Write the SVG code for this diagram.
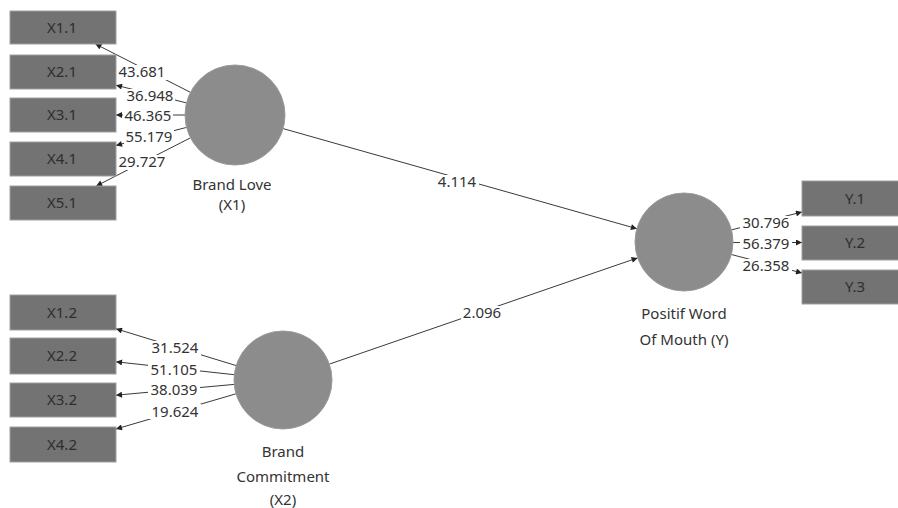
<svg xmlns="http://www.w3.org/2000/svg" width="898" height="508" viewBox="0 0 898 508">
  <defs>
    <marker id="arr" viewBox="0 0 10 10" refX="10" refY="5" markerWidth="7" markerHeight="6" markerUnits="userSpaceOnUse" orient="auto">
      <path d="M0,0 L10,5 L0,10 z" fill="#222"/>
    </marker>
    <style>
      .ind { fill: #737373; stroke: #a0a0a0; stroke-width: 1; }
      .lv { fill: #8c8c8c; stroke: #9a9a9a; stroke-width: 1; }
      .t { font-family: "Noto Sans", "Open Sans", "Liberation Sans", sans-serif; font-size: 15px; fill: #333; text-anchor: middle; }
      .bt { font-family: "Noto Sans", "Open Sans", "Liberation Sans", sans-serif; font-size: 15px; fill: #2e2e2e; text-anchor: middle; }
      .edge { stroke: #3a3a3a; stroke-width: 1; fill: none; marker-end: url(#arr); }
      .bg { fill: #fff; }
    </style>
  </defs>
  <rect width="898" height="508" fill="#fff"/>

  <!-- connectors -->
  <g id="connectors">
    <!-- Brand Love (X1) loadings -->
    <line class="edge" x1="190.4" y1="92.3" x2="95.4" y2="44"/>
    <line class="edge" x1="186.5" y1="102.9" x2="116" y2="85.2"/>
    <line class="edge" x1="185" y1="115" x2="116" y2="115"/>
    <line class="edge" x1="186.6" y1="127.4" x2="116" y2="145.4"/>
    <line class="edge" x1="190.5" y1="137.8" x2="96.2" y2="186"/>
    <!-- Brand Commitment (X2) loadings -->
    <line class="edge" x1="236.2" y1="365.6" x2="116" y2="328.8"/>
    <line class="edge" x1="234.3" y1="374.7" x2="116" y2="361.8"/>
    <line class="edge" x1="234.2" y1="384.4" x2="116" y2="395.2"/>
    <line class="edge" x1="236" y1="393.8" x2="116" y2="429"/>
    <!-- Positif Word Of Mouth (Y) loadings -->
    <line class="edge" x1="731.5" y1="229.9" x2="802" y2="212"/>
    <line class="edge" x1="733" y1="242.5" x2="802" y2="242.5"/>
    <line class="edge" x1="731.4" y1="254.5" x2="802" y2="273"/>
    <!-- structural paths -->
    <line class="edge" x1="283.1" y1="128.6" x2="636.9" y2="228.7"/>
    <line class="edge" x1="329.4" y1="364.1" x2="637.6" y2="257.9"/>

    <!-- coefficient labels -->
    <g>
      <rect class="bg" x="118" y="65" width="49" height="15"/>
      <text class="t" x="142" y="77">43.681</text>
      <rect class="bg" x="125" y="89" width="50" height="15"/>
      <text class="t" x="150" y="101">36.948</text>
      <rect class="bg" x="123" y="109" width="50" height="15"/>
      <text class="t" x="148" y="121">46.365</text>
      <rect class="bg" x="124" y="130" width="50" height="15"/>
      <text class="t" x="149" y="142">55.179</text>
      <rect class="bg" x="117" y="155" width="50" height="15"/>
      <text class="t" x="142" y="167">29.727</text>

      <rect class="bg" x="149" y="341" width="52" height="15"/>
      <text class="t" x="175" y="353">31.524</text>
      <rect class="bg" x="148" y="363" width="52" height="15"/>
      <text class="t" x="174" y="375">51.105</text>
      <rect class="bg" x="148" y="383" width="52" height="14"/>
      <text class="t" x="174" y="395">38.039</text>
      <rect class="bg" x="148" y="404" width="53" height="15"/>
      <text class="t" x="175" y="417">19.624</text>

      <rect class="bg" x="740" y="216" width="52" height="15"/>
      <text class="t" x="766" y="228">30.796</text>
      <rect class="bg" x="740" y="237" width="52" height="15"/>
      <text class="t" x="766" y="249">56.379</text>
      <rect class="bg" x="740" y="259" width="52" height="15"/>
      <text class="t" x="766" y="271">26.358</text>

      <rect class="bg" x="436" y="175" width="43" height="15"/>
      <text class="t" x="457" y="187">4.114</text>
      <rect class="bg" x="461" y="306" width="43" height="15"/>
      <text class="t" x="482" y="318">2.096</text>
    </g>
  </g>

  <!-- indicators of Brand Love -->
  <g id="x1_1"><rect class="ind" x="10" y="11" width="106" height="33"/><text class="bt" x="62" y="33">X1.1</text></g>
  <g id="x2_1"><rect class="ind" x="10" y="55" width="106" height="34"/><text class="bt" x="62" y="77">X2.1</text></g>
  <g id="x3_1"><rect class="ind" x="10" y="98" width="106" height="34"/><text class="bt" x="62" y="120">X3.1</text></g>
  <g id="x4_1"><rect class="ind" x="10" y="142" width="106" height="34"/><text class="bt" x="62" y="164">X4.1</text></g>
  <g id="x5_1"><rect class="ind" x="10" y="186" width="106" height="34"/><text class="bt" x="62" y="208">X5.1</text></g>

  <!-- indicators of Brand Commitment -->
  <g id="x1_2"><rect class="ind" x="10" y="295" width="106" height="35"/><text class="bt" x="62" y="318">X1.2</text></g>
  <g id="x2_2"><rect class="ind" x="10" y="338" width="106" height="36"/><text class="bt" x="62" y="361">X2.2</text></g>
  <g id="x3_2"><rect class="ind" x="10" y="383" width="106" height="34"/><text class="bt" x="62" y="405">X3.2</text></g>
  <g id="x4_2"><rect class="ind" x="10" y="427" width="106" height="35"/><text class="bt" x="62" y="450">X4.2</text></g>

  <!-- indicators of Positif Word Of Mouth -->
  <g id="y_1"><rect class="ind" x="802" y="181" width="106" height="35"/><text class="bt" x="855" y="204">Y.1</text></g>
  <g id="y_2"><rect class="ind" x="802" y="226" width="106" height="34"/><text class="bt" x="855" y="248">Y.2</text></g>
  <g id="y_3"><rect class="ind" x="802" y="270" width="106" height="34"/><text class="bt" x="855" y="292">Y.3</text></g>

  <!-- latent variables -->
  <g id="brand_love">
    <circle class="lv" cx="235" cy="115" r="50"/>
    <text class="t" x="232" y="190">Brand Love</text>
    <text class="t" x="232" y="210">(X1)</text>
  </g>
  <g id="brand_commitment">
    <circle class="lv" cx="283" cy="380" r="49"/>
    <text class="t" x="283" y="457">Brand</text>
    <text class="t" x="283" y="482">Commitment</text>
    <text class="t" x="283" y="505">(X2)</text>
  </g>
  <g id="positif_wom">
    <circle class="lv" cx="684" cy="242" r="49"/>
    <text class="t" x="684" y="319">Positif Word</text>
    <text class="t" x="684" y="345">Of Mouth (Y)</text>
  </g>
</svg>
